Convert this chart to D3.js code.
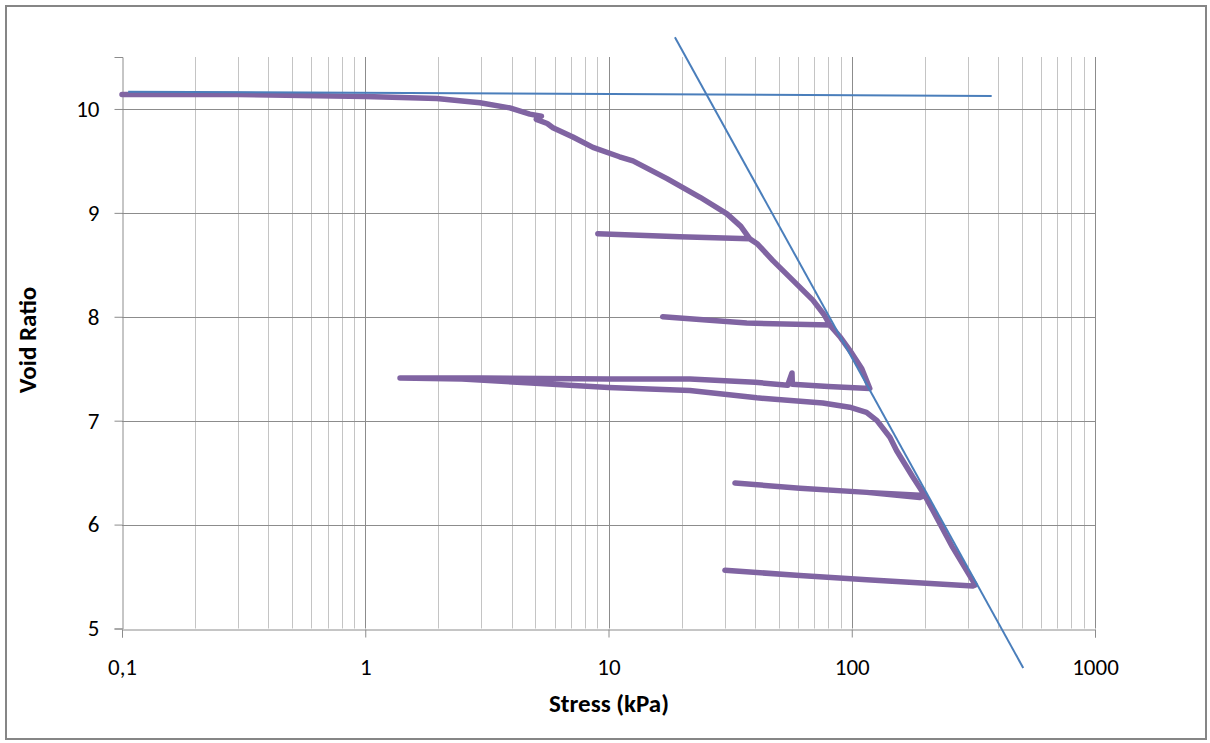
<!DOCTYPE html>
<html lang="en">
<head>
    <meta charset="UTF-8">
    <title>Void Ratio vs Stress</title>
    <script src="https://d3js.org/d3.v7.min.js"></script>
    <style>
        body { margin: 0; background: #fff; }
        text { font-family: Calibri, Carlito, Lato, sans-serif; fill: #000; }
        .grid-minor { stroke: #c4c4c4; stroke-width: 1; }
        .grid-major { stroke: #8c8c8c; stroke-width: 1; }
        .test { fill: none; stroke: #8064a2; stroke-width: 5.5; stroke-linejoin: round; stroke-linecap: round; }
        .fit { fill: none; stroke: #4a7ebb; stroke-width: 2; }
    </style>
</head>
<body>
<script>
    // oedometer test: stress (kPa) and void ratio, in the order they were recorded
    var stress = [0.1, 0.3, 1, 1.97, 2.96, 3.93, 4.75, 5.3, 5.05, 5.6, 5.91, 7.14, 8.63, 11.1, 12.6, 17.4, 23.8, 30.7, 35, 38.1,
                  19.6, 9.04, 19.6, 38.1,
                  41, 47.4, 57.3, 69.2, 77, 81.3,
                  37, 16.7, 37, 81.3,
                  90, 100, 110, 118.6,
                  80, 57, 56.8, 54.5, 40, 21.6, 10, 3, 1.39,
                  2.5, 5, 10, 21.6, 40.7, 76, 98, 115, 127, 143.5, 153, 178, 199.7,
                  190.5, 115.3, 61.2, 33.1, 61.2, 115.3, 199.7,
                  215, 260, 322,
                  314.6, 115.3, 61.2, 30.1];
    var voidRatio = [10.14, 10.14, 10.12, 10.10, 10.06, 10.01, 9.95, 9.93, 9.90, 9.86, 9.82, 9.73, 9.63, 9.54, 9.50, 9.33, 9.15, 8.99, 8.87, 8.75,
                  8.77, 8.80, 8.77, 8.75,
                  8.70, 8.54, 8.35, 8.16, 8.02, 7.92,
                  7.94, 8.00, 7.94, 7.92,
                  7.80, 7.65, 7.50, 7.31,
                  7.33, 7.35, 7.46, 7.34, 7.37, 7.40, 7.40, 7.41, 7.41,
                  7.40, 7.36, 7.32, 7.29, 7.22, 7.17, 7.13, 7.08, 7.00, 6.84, 6.71, 6.46, 6.28,
                  6.26, 6.31, 6.35, 6.40, 6.35, 6.31, 6.28,
                  6.14, 5.78, 5.42,
                  5.41, 5.47, 5.51, 5.56];

    // recompression line and virgin compression line
    var recompStress = [0.106, 376];
    var recompVoid = [10.166, 10.125];
    var virginStress = [18.75, 507];
    var virginVoid = [10.69, 4.62];

    var yTicks = [5, 6, 7, 8, 9, 10];
    var xTicks = [0.1, 1, 10, 100, 1000];
    var xTickLabels = ["0,1", "1", "10", "100", "1000"];

    var width = 1210, height = 743;
    var plot = {left: 122, right: 1095, top: 57, bottom: 628.5};

    var x = d3.scaleLog().domain([0.1, 1000]).range([plot.left, plot.right]);
    var y = d3.scaleLinear().domain([5, 10.5]).range([plot.bottom, plot.top]);

    var svg = d3.select("body").append("svg")
        .attr("width", width)
        .attr("height", height);

    // outer chart border
    svg.append("rect")
        .attr("x", 6).attr("y", 6)
        .attr("width", 1200).attr("height", 733)
        .attr("fill", "none")
        .attr("stroke", "#868686")
        .attr("stroke-width", 2);

    // vertical grid (minor 2..9 in each decade, major at decades)
    var minor = x.ticks().filter(function(d) { return xTicks.indexOf(d) < 0; });
    svg.append("g").selectAll("line")
        .data(minor)
        .enter().append("line")
        .attr("class", "grid-minor")
        .attr("x1", function(d) { return Math.round(x(d)) + 0.5; })
        .attr("x2", function(d) { return Math.round(x(d)) + 0.5; })
        .attr("y1", plot.top).attr("y2", plot.bottom);

    svg.append("g").selectAll("line")
        .data(xTicks.slice(1))
        .enter().append("line")
        .attr("class", "grid-major")
        .attr("x1", function(d) { return Math.round(x(d)) + 0.5; })
        .attr("x2", function(d) { return Math.round(x(d)) + 0.5; })
        .attr("y1", plot.top).attr("y2", plot.bottom);

    // horizontal grid
    svg.append("g").selectAll("line")
        .data(yTicks.slice(1))
        .enter().append("line")
        .attr("class", "grid-major")
        .attr("x1", plot.left).attr("x2", plot.right)
        .attr("y1", function(d) { return Math.round(y(d)) + 0.5; })
        .attr("y2", function(d) { return Math.round(y(d)) + 0.5; });

    // Y axis
    var yAxis = svg.append("g")
        .attr("transform", "translate(" + (Math.round(plot.left) + 0.5) + ",0)")
        .call(d3.axisLeft(y).tickValues(yTicks).tickSize(8).tickPadding(15).tickFormat(d3.format("d")));

    // X axis
    var xAxis = svg.append("g")
        .attr("transform", "translate(0," + (Math.round(plot.bottom) + 0.5) + ")")
        .call(d3.axisBottom(x).tickValues(xTicks).tickSize(8).tickPadding(21)
            .tickFormat(function(d, i) { return xTickLabels[i]; }));

    [yAxis, xAxis].forEach(function(a) {
        a.select(".domain").attr("stroke", "#8c8c8c");
        a.selectAll(".tick line").attr("stroke", "#8c8c8c");
        a.selectAll(".tick text")
            .style("font-family", "Calibri, Carlito, Lato, sans-serif")
            .style("font-size", "23px")
            .attr("fill", "#1a1a1a");
    });

    // test curve
    var line = d3.line()
        .x(function(d) { return x(d[0]); })
        .y(function(d) { return y(d[1]); });

    svg.append("path")
        .datum(d3.zip(stress, voidRatio))
        .attr("class", "test")
        .attr("d", line);

    svg.append("path")
        .datum(d3.zip(recompStress, recompVoid))
        .attr("class", "fit")
        .attr("d", line);

    svg.append("path")
        .datum(d3.zip(virginStress, virginVoid))
        .attr("class", "fit")
        .attr("d", line);

    // axis titles
    svg.append("text")
        .attr("x", 609)
        .attr("y", 712)
        .attr("text-anchor", "middle")
        .style("font-size", "25px")
        .style("font-weight", "bold")
        .text("Stress (kPa)");

    svg.append("text")
        .attr("transform", "translate(36,340) rotate(-90)")
        .attr("text-anchor", "middle")
        .style("font-size", "25px")
        .style("font-weight", "bold")
        .text("Void Ratio");
</script>
</body>
</html>
